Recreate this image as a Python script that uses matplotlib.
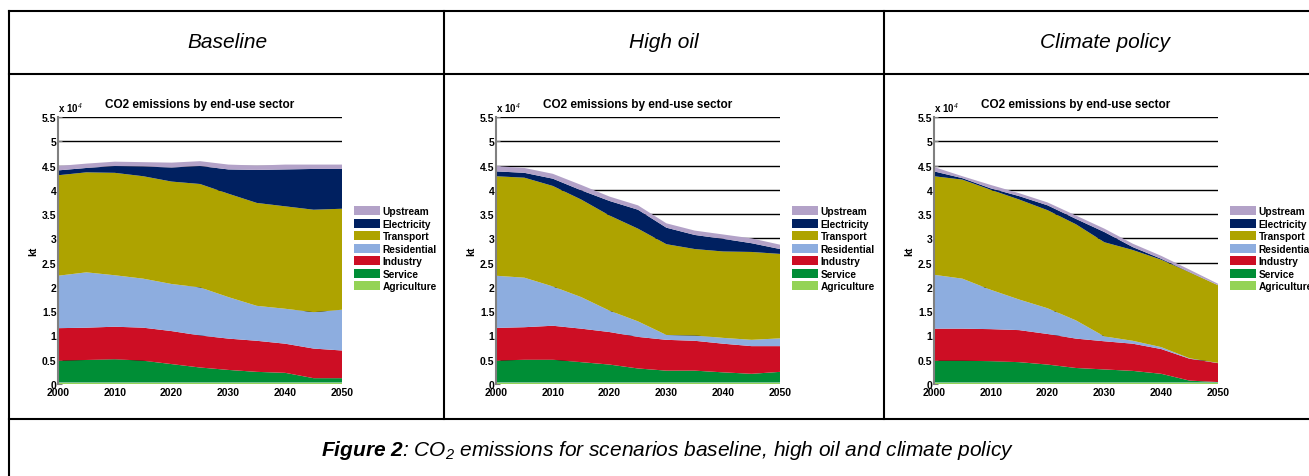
import matplotlib.pyplot as plt
from matplotlib.lines import Line2D
from matplotlib.patches import Patch

plt.rcParams["font.family"] = ["Liberation Sans", "DejaVu Sans"]
plt.rcParams["mathtext.fontset"] = "custom"
plt.rcParams["mathtext.bf"] = "Liberation Sans:bold:italic"
plt.rcParams["mathtext.it"] = "Liberation Sans:italic"
plt.rcParams["mathtext.rm"] = "Liberation Sans:italic"

years = [2000, 2005, 2010, 2015, 2020, 2025, 2030, 2035, 2040, 2045, 2050]
sectors = ["Agriculture", "Service", "Industry", "Residential", "Transport", "Electricity", "Upstream"]
colors = ["#94d356", "#008e36", "#cd0e24", "#8daddf", "#aea300", "#002060", "#b3a2c8"]
scenarios = ["Baseline", "High oil", "Climate policy"]

# emissions per sector, kt
base_agri = [300, 300, 300, 300, 300, 300, 300, 300, 300, 300, 300]
base_serv = [4500, 4650, 4800, 4500, 3800, 3100, 2600, 2200, 2000, 900, 900]
base_ind = [6700, 6650, 6700, 6800, 6800, 6600, 6450, 6400, 6000, 6100, 5700]
base_res = [10800, 11400, 10600, 10100, 9700, 9900, 8550, 7200, 7200, 7500, 8400]
base_trans = [20700, 20600, 21100, 21100, 21100, 21300, 21300, 21200, 21100, 21100, 20800]
base_elec = [1000, 900, 1400, 2000, 2900, 3700, 5000, 6800, 7600, 8400, 8200]
base_up = [900, 900, 900, 900, 1000, 1000, 1000, 900, 1000, 900, 900]

oil_agri = [300, 300, 300, 300, 300, 300, 300, 300, 300, 300, 300]
oil_serv = [4500, 4700, 4700, 4200, 3700, 2900, 2450, 2450, 2100, 1800, 2200]
oil_ind = [6750, 6700, 7000, 6900, 6700, 6500, 6350, 6150, 5900, 5700, 5300]
oil_res = [10750, 10200, 8100, 6500, 4400, 3200, 1000, 1100, 1200, 1300, 1600]
oil_trans = [20500, 20600, 20700, 20100, 19600, 19100, 18700, 17800, 17800, 18100, 17400]
oil_elec = [1000, 1000, 1500, 1900, 3000, 3900, 3400, 2900, 2600, 1800, 1000]
oil_up = [1100, 1000, 1000, 1100, 900, 900, 900, 900, 900, 1000, 900]

clim_agri = [300, 300, 300, 300, 300, 300, 300, 300, 300, 300, 300]
clim_serv = [4500, 4500, 4400, 4200, 3700, 3000, 2700, 2400, 1800, 400, 100]
clim_ind = [6600, 6600, 6600, 6600, 6300, 6050, 5800, 5600, 5100, 4500, 3900]
clim_res = [11100, 10300, 8100, 6300, 5300, 3750, 1000, 600, 400, 100, 50]
clim_trans = [20300, 20400, 20600, 20600, 20200, 19800, 19400, 18700, 18000, 17700, 16000]
clim_elec = [1000, 300, 300, 700, 1000, 1100, 2100, 600, 200, 50, 0]
clim_up = [900, 400, 700, 600, 600, 700, 700, 700, 600, 500, 300]

data = [
    [base_agri, base_serv, base_ind, base_res, base_trans, base_elec, base_up],
    [oil_agri, oil_serv, oil_ind, oil_res, oil_trans, oil_elec, oil_up],
    [clim_agri, clim_serv, clim_ind, clim_res, clim_trans, clim_elec, clim_up],
]

W, H = 1309, 477
fig = plt.figure(figsize=(W / 100, H / 100), dpi=100)


def px(x, y):
    return x / W, 1 - y / H


# table grid around the panels
lw = 1.5
for (x0, y0), (x1, y1) in [
    ((8.5, 11.5), (W, 11.5)), ((8.5, 75), (W, 75)), ((8.5, 420), (W, 420)),
    ((8.5, 11.5), (8.5, H)), ((444, 11.5), (444, 420)), ((884, 11.5), (884, 420)),
]:
    a, b = px(x0, y0)
    c, d = px(x1, y1)
    fig.add_artist(Line2D([a, c], [b, d], transform=fig.transFigure, color="black", lw=lw))

head_x = [227, 664, 1105]
for name, hx in zip(scenarios, head_x):
    fig.text(*px(hx, 43), name, ha="center", va="center", style="italic", fontsize=15)

fig.text(*px(667, 451), r"$\mathbf{Figure\ 2}$: CO$_2$ emissions for scenarios baseline, high oil and climate policy",
         ha="center", va="center", style="italic", fontsize=15)

ax_left = [58, 496, 934]
ax_w, ax_top, ax_bot = 284, 118, 385
legend_x = [354, 792, 1230]

for i, series in enumerate(data):
    l, b = px(ax_left[i], ax_bot)
    ax = fig.add_axes([l, b, ax_w / W, (ax_bot - ax_top) / H])
    ax.stackplot(years, *series, colors=colors, lw=0, zorder=2)
    ax.set_xlim(2000, 2050)
    ax.set_ylim(0, 55000)
    ax.set_yticks(range(0, 55001, 5000))
    ax.set_yticklabels([f"{v / 1e4:g}" for v in range(0, 55001, 5000)])
    ax.set_xticks(range(2000, 2051, 10))
    ax.tick_params(axis="both", direction="in", length=3, width=0.8, color="#808080",
                   labelsize=7.5, pad=1)
    ax.tick_params(axis="x", length=0, pad=2)
    for t in ax.get_xticklabels() + ax.get_yticklabels():
        t.set_fontweight("bold")
    ax.grid(axis="y", color="black", lw=1.0, zorder=1)
    ax.set_axisbelow(True)
    for s in ["top", "right", "bottom"]:
        ax.spines[s].set_visible(False)
    ax.spines["left"].set_color("#808080")
    ax.spines["left"].set_linewidth(1.5)
    ax.set_ylabel("kt", fontsize=7.5, fontweight="bold", labelpad=3)
    ax.set_title("CO2 emissions by end-use sector", fontsize=8.5, fontweight="bold", pad=7)
    ax.text(0.0, 1.01, r"x 10$^{4}$", transform=ax.transAxes, fontsize=7, fontweight="bold",
            ha="left", va="bottom")

    handles = [Patch(facecolor=c, edgecolor="none", label=s) for s, c in zip(sectors, colors)][::-1]
    fig.legend(handles=handles, loc="upper left", bbox_to_anchor=px(legend_x[i], 207),
               frameon=False, prop={"weight": "bold", "size": 7.3},
               handlelength=2.6, handleheight=1.0, handletextpad=0.2,
               labelspacing=0.25, borderpad=0, borderaxespad=0)

fig.savefig("out.png", dpi=100)
